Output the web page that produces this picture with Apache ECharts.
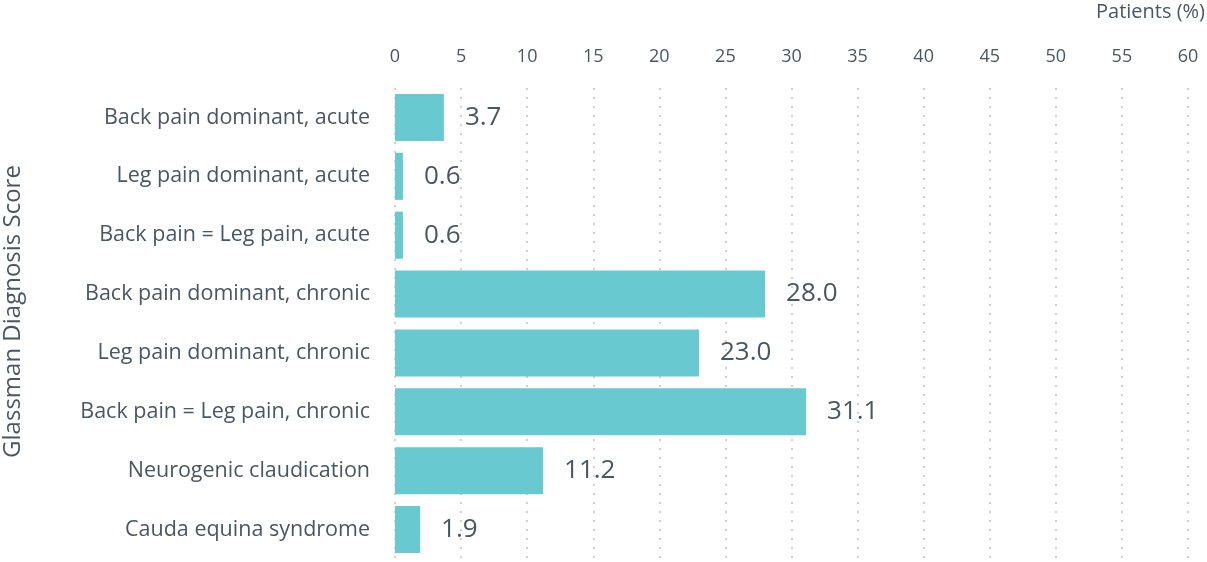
<!DOCTYPE html>
<html><head><meta charset="utf-8">
<script src="https://cdn.jsdelivr.net/npm/echarts@6/dist/echarts.min.js"></script>
<style>html,body{margin:0;padding:0;background:#fff}#c{width:1207px;height:562px}</style>
</head><body><div id="c"></div>
<script>
const categories = [
  "Back pain dominant, acute",
  "Leg pain dominant, acute",
  "Back pain = Leg pain, acute",
  "Back pain dominant, chronic",
  "Leg pain dominant, chronic",
  "Back pain = Leg pain, chronic",
  "Neurogenic claudication",
  "Cauda equina syndrome"
];
const values = [3.7, 0.6, 0.6, 28.0, 23.0, 31.1, 11.2, 1.9];
const xTicks = { min: 0, max: 60, interval: 5 };
const xAxisTitle = "Patients (%)";
const yAxisTitle = "Glassman Diagnosis Score";

const FONT = '"Open Sans", sans-serif';
const TXT = '#4b5661';
const chart = echarts.init(document.getElementById('c'), null, { renderer: 'canvas' });
chart.setOption({
  animation: false,
  textStyle: { fontFamily: FONT },
  title: {
    text: xAxisTitle, right: -3, top: -3,
    textStyle: { fontFamily: FONT, fontSize: 20, fontWeight: 'normal', color: TXT }
  },
  grid: { left: 395, right: 19, top: 88, bottom: 3, containLabel: false, outerBoundsMode: 'none' },
  xAxis: {
    type: 'value', position: 'top',
    min: xTicks.min, max: xTicks.max, interval: xTicks.interval,
    axisLine: { show: false }, axisTick: { show: false },
    axisLabel: { color: TXT, fontSize: 18, margin: 22, fontFamily: FONT },
    splitLine: { show: true, lineStyle: { color: '#cfcfcf', width: 2, type: [2, 7] } }
  },
  yAxis: {
    type: 'category', data: categories, inverse: true,
    axisLine: { show: false }, axisTick: { show: false },
    axisLabel: { color: TXT, fontSize: 21.5, margin: 25, fontFamily: FONT },
    name: yAxisTitle, nameLocation: 'middle', nameRotate: 90, nameGap: 370,
    nameTextStyle: { color: TXT, fontSize: 24, fontFamily: FONT, padding: [0, 0, 0, 24] }
  },
  series: [{
    type: 'bar', data: values, barCategoryGap: '20%',
    itemStyle: { color: '#68c9d0' },
    label: {
      show: true, position: 'right', distance: 21,
      formatter: p => p.value.toFixed(1),
      color: TXT, fontSize: 26, fontFamily: FONT
    }
  }]
});
</script></body></html>
